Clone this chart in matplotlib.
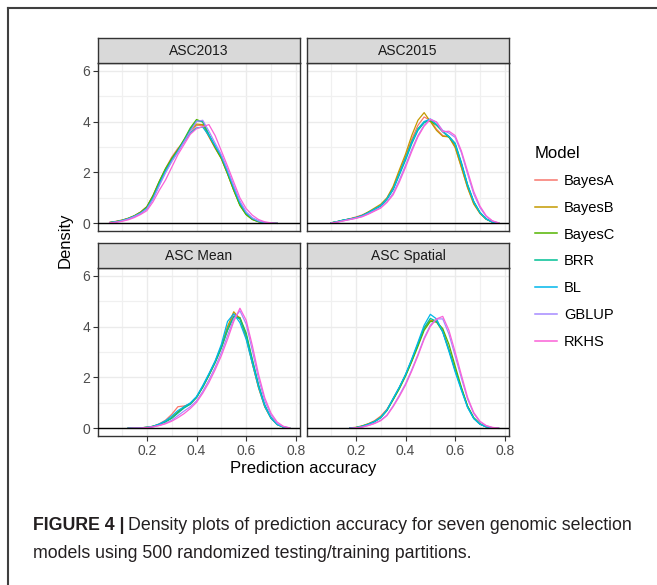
import numpy as np
import matplotlib.pyplot as plt
from matplotlib.lines import Line2D

plt.rcParams['font.family'] = ['Liberation Sans', 'DejaVu Sans']

# models and ggplot default hue colours
models = ["BayesA", "BayesB", "BayesC", "BRR", "BL", "GBLUP", "RKHS"]
colors = ["#F8766D", "#C49A00", "#53B400", "#00C094", "#00B6EB", "#A58AFF", "#FB61D7"]

panels = ["ASC2013", "ASC2015", "ASC Mean", "ASC Spatial"]

# density curves (x grid per panel, one list per model)
x_2013 = np.round(np.arange(0.05, 0.726, 0.025), 3)
d_2013 = {
    "BayesA": [0.04, 0.08, 0.13, 0.20, 0.30, 0.45, 0.66, 1.10, 1.65, 2.15, 2.60, 2.95, 3.20, 3.55, 3.85, 3.85, 3.40, 2.95, 2.55, 1.95, 1.30, 0.72, 0.36, 0.16, 0.07, 0.02, 0.01, 0.00],
    "BayesB": [0.03, 0.07, 0.12, 0.19, 0.30, 0.44, 0.64, 1.08, 1.62, 2.12, 2.52, 2.88, 3.28, 3.65, 3.90, 3.88, 3.42, 2.98, 2.55, 1.95, 1.30, 0.72, 0.35, 0.16, 0.07, 0.03, 0.01, 0.00],
    "BayesC": [0.03, 0.07, 0.12, 0.20, 0.30, 0.44, 0.65, 1.10, 1.65, 2.15, 2.55, 2.90, 3.30, 3.75, 4.08, 3.98, 3.45, 2.98, 2.55, 1.95, 1.30, 0.70, 0.34, 0.15, 0.06, 0.02, 0.01, 0.00],
    "BRR":    [0.03, 0.06, 0.11, 0.18, 0.28, 0.41, 0.60, 1.02, 1.58, 2.08, 2.48, 2.85, 3.25, 3.70, 4.02, 4.00, 3.50, 3.05, 2.62, 2.02, 1.38, 0.78, 0.40, 0.19, 0.08, 0.03, 0.01, 0.00],
    "BL":     [0.03, 0.06, 0.11, 0.18, 0.28, 0.40, 0.58, 0.98, 1.52, 2.02, 2.45, 2.82, 3.22, 3.55, 3.75, 3.78, 3.45, 3.05, 2.65, 2.05, 1.42, 0.82, 0.42, 0.20, 0.09, 0.03, 0.01, 0.00],
    "GBLUP":  [0.02, 0.05, 0.10, 0.17, 0.27, 0.39, 0.57, 0.95, 1.48, 1.98, 2.42, 2.80, 3.20, 3.62, 4.00, 4.05, 3.62, 3.15, 2.70, 2.12, 1.48, 0.88, 0.45, 0.22, 0.10, 0.04, 0.01, 0.00],
    "RKHS":   [0.02, 0.04, 0.08, 0.14, 0.23, 0.35, 0.50, 0.85, 1.30, 1.70, 2.20, 2.70, 3.10, 3.50, 3.72, 3.80, 3.88, 3.45, 2.85, 2.25, 1.62, 1.00, 0.58, 0.32, 0.15, 0.06, 0.02, 0.00],
}

x_2015 = np.round(np.arange(0.10, 0.776, 0.025), 3)
d_2015 = {
    "BayesA": [0.02, 0.06, 0.12, 0.18, 0.25, 0.33, 0.44, 0.55, 0.70, 0.98, 1.40, 2.00, 2.62, 3.30, 3.85, 4.18, 4.05, 3.70, 3.45, 3.40, 3.00, 2.22, 1.42, 0.78, 0.40, 0.17, 0.05, 0.01],
    "BayesB": [0.02, 0.06, 0.12, 0.17, 0.23, 0.31, 0.45, 0.60, 0.75, 1.00, 1.45, 2.10, 2.72, 3.45, 4.05, 4.35, 4.00, 3.65, 3.42, 3.40, 2.98, 2.20, 1.40, 0.76, 0.39, 0.16, 0.05, 0.01],
    "BayesC": [0.02, 0.07, 0.13, 0.17, 0.22, 0.30, 0.43, 0.56, 0.69, 0.95, 1.35, 1.95, 2.55, 3.20, 3.72, 3.98, 4.02, 3.85, 3.60, 3.38, 3.10, 2.35, 1.50, 0.84, 0.42, 0.17, 0.05, 0.01],
    "BRR":    [0.02, 0.07, 0.13, 0.17, 0.22, 0.30, 0.42, 0.55, 0.68, 0.95, 1.32, 1.90, 2.48, 3.12, 3.65, 3.95, 4.08, 3.88, 3.62, 3.42, 3.15, 2.40, 1.53, 0.86, 0.43, 0.18, 0.05, 0.01],
    "BL":     [0.02, 0.07, 0.13, 0.17, 0.22, 0.30, 0.42, 0.56, 0.70, 0.96, 1.35, 1.95, 2.55, 3.18, 3.70, 4.00, 4.10, 3.88, 3.60, 3.40, 3.12, 2.35, 1.50, 0.84, 0.42, 0.17, 0.05, 0.01],
    "GBLUP":  [0.01, 0.05, 0.10, 0.15, 0.20, 0.27, 0.38, 0.50, 0.62, 0.85, 1.18, 1.70, 2.28, 2.90, 3.45, 3.85, 4.10, 3.98, 3.65, 3.55, 3.38, 2.78, 1.95, 1.15, 0.62, 0.27, 0.09, 0.02],
    "RKHS":   [0.01, 0.05, 0.10, 0.15, 0.20, 0.26, 0.36, 0.48, 0.60, 0.82, 1.12, 1.62, 2.20, 2.82, 3.40, 3.82, 4.08, 3.98, 3.60, 3.62, 3.45, 2.85, 2.05, 1.25, 0.68, 0.30, 0.10, 0.02],
}

x_mean = np.round(np.arange(0.125, 0.776, 0.025), 3)
d_mean = {
    "BayesA": [0.01, 0.01, 0.02, 0.04, 0.08, 0.18, 0.32, 0.55, 0.85, 0.88, 0.95, 1.22, 1.62, 2.10, 2.62, 3.20, 3.95, 4.50, 4.35, 3.60, 2.55, 1.60, 0.85, 0.40, 0.15, 0.05, 0.01],
    "BayesB": [0.01, 0.01, 0.02, 0.04, 0.08, 0.16, 0.26, 0.42, 0.65, 0.82, 0.96, 1.22, 1.65, 2.12, 2.62, 3.22, 4.00, 4.58, 4.30, 3.55, 2.55, 1.60, 0.85, 0.40, 0.15, 0.05, 0.01],
    "BayesC": [0.02, 0.02, 0.02, 0.04, 0.08, 0.15, 0.26, 0.40, 0.62, 0.85, 0.98, 1.22, 1.62, 2.08, 2.58, 3.15, 3.85, 4.38, 4.35, 3.75, 2.70, 1.70, 0.90, 0.42, 0.16, 0.05, 0.01],
    "BRR":    [0.01, 0.01, 0.02, 0.04, 0.08, 0.16, 0.26, 0.40, 0.60, 0.80, 0.95, 1.22, 1.62, 2.10, 2.60, 3.18, 3.88, 4.40, 4.30, 3.68, 2.68, 1.70, 0.92, 0.42, 0.16, 0.05, 0.01],
    "BL":     [0.01, 0.01, 0.02, 0.04, 0.08, 0.17, 0.30, 0.48, 0.70, 0.85, 1.00, 1.25, 1.68, 2.15, 2.65, 3.30, 4.20, 4.50, 4.15, 3.50, 2.55, 1.62, 0.86, 0.40, 0.15, 0.05, 0.01],
    "GBLUP":  [0.00, 0.01, 0.01, 0.03, 0.06, 0.12, 0.20, 0.32, 0.50, 0.68, 0.85, 1.08, 1.45, 1.90, 2.40, 2.98, 3.65, 4.30, 4.62, 4.10, 3.05, 1.95, 1.08, 0.52, 0.20, 0.07, 0.02],
    "RKHS":   [0.00, 0.01, 0.01, 0.03, 0.06, 0.11, 0.18, 0.28, 0.42, 0.58, 0.78, 1.02, 1.38, 1.80, 2.30, 2.85, 3.50, 4.20, 4.72, 4.25, 3.25, 2.12, 1.20, 0.60, 0.25, 0.08, 0.02],
}

x_spatial = np.round(np.arange(0.175, 0.776, 0.025), 3)
d_spatial = {
    "BayesA": [0.01, 0.03, 0.09, 0.18, 0.30, 0.48, 0.75, 1.15, 1.60, 2.10, 2.68, 3.30, 3.95, 4.22, 4.25, 3.85, 3.10, 2.30, 1.55, 0.85, 0.40, 0.17, 0.06, 0.02, 0.00],
    "BayesB": [0.02, 0.04, 0.10, 0.18, 0.28, 0.45, 0.72, 1.15, 1.60, 2.08, 2.65, 3.28, 3.92, 4.25, 4.18, 3.80, 3.08, 2.30, 1.58, 0.86, 0.40, 0.17, 0.06, 0.02, 0.00],
    "BayesC": [0.01, 0.03, 0.08, 0.16, 0.26, 0.42, 0.70, 1.12, 1.55, 2.05, 2.62, 3.22, 3.85, 4.20, 4.18, 3.92, 3.30, 2.45, 1.62, 0.88, 0.42, 0.18, 0.07, 0.02, 0.00],
    "BRR":    [0.01, 0.03, 0.08, 0.16, 0.26, 0.42, 0.70, 1.15, 1.60, 2.10, 2.70, 3.32, 3.95, 4.32, 4.20, 3.80, 3.08, 2.28, 1.55, 0.85, 0.40, 0.17, 0.06, 0.02, 0.00],
    "BL":     [0.01, 0.03, 0.08, 0.16, 0.27, 0.43, 0.72, 1.18, 1.62, 2.12, 2.72, 3.38, 4.05, 4.48, 4.30, 3.78, 3.02, 2.22, 1.50, 0.82, 0.38, 0.16, 0.06, 0.02, 0.00],
    "GBLUP":  [0.00, 0.02, 0.05, 0.12, 0.20, 0.32, 0.52, 0.88, 1.30, 1.75, 2.30, 2.90, 3.55, 4.05, 4.30, 4.30, 3.70, 2.85, 1.98, 1.15, 0.58, 0.25, 0.10, 0.03, 0.01],
    "RKHS":   [0.00, 0.02, 0.05, 0.11, 0.19, 0.30, 0.50, 0.85, 1.25, 1.70, 2.25, 2.85, 3.50, 4.00, 4.30, 4.40, 3.85, 3.00, 2.10, 1.22, 0.62, 0.28, 0.11, 0.04, 0.01],
}

panel_data = [(x_2013, d_2013), (x_2015, d_2015), (x_mean, d_mean), (x_spatial, d_spatial)]

x_ticks = [0.2, 0.4, 0.6, 0.8]
y_ticks = [0, 2, 4, 6]

W, H = 657, 585
fig = plt.figure(figsize=(W / 100, H / 100), dpi=100)

# panel boxes in pixels: left, top, width, height
lefts = [98, 307]
tops = [63, 268]
pw, ph = 202, 168
strip_h = 25

for i, name in enumerate(panels):
    r, c = divmod(i, 2)
    L, T = lefts[c], tops[r]
    ax = fig.add_axes([L / W, 1 - (T + ph) / H, pw / W, ph / H])
    xs, dens = panel_data[i]
    for m, col in zip(models, colors):
        ax.plot(xs, dens[m], color=col, lw=0.9, zorder=3)
    ax.axhline(0, color="black", lw=1.0, zorder=4)
    ax.set_xlim(0.003, 0.817)
    ax.set_ylim(-0.3, 6.3)
    ax.set_xticks(x_ticks)
    ax.set_xticks([0.1, 0.3, 0.5, 0.7], minor=True)
    ax.set_yticks(y_ticks)
    ax.set_yticks([1, 3, 5], minor=True)
    ax.grid(True, which="major", color="#EBEBEB", lw=1.0, zorder=0)
    ax.grid(True, which="minor", color="#F0F0F0", lw=0.9, zorder=0)
    ax.set_axisbelow(True)
    for s in ax.spines.values():
        s.set_color("#333333")
        s.set_linewidth(1.0)
    ax.tick_params(which="minor", length=0)
    ax.tick_params(which="major", length=3.5, width=0.8, color="#333333",
                   labelsize=10, labelcolor="#4D4D4D", pad=2)
    if r == 0:
        ax.tick_params(axis="x", which="major", length=0, labelbottom=False)
    if c == 1:
        ax.tick_params(axis="y", which="major", length=0, labelleft=False)
    ax.set_yticklabels([str(v) for v in y_ticks])

    # facet strip
    sax = fig.add_axes([L / W, 1 - T / H, pw / W, strip_h / H])
    sax.set_facecolor("#D9D9D9")
    sax.set_xticks([])
    sax.set_yticks([])
    for s in sax.spines.values():
        s.set_color("#333333")
        s.set_linewidth(1.0)
    sax.text(0.5, 0.47, name, ha="center", va="center", fontsize=10, color="#1A1A1A",
             transform=sax.transAxes)

fig.text(65 / W, 1 - 240 / H, "Density", rotation=90, ha="center", va="center", fontsize=12)
fig.text(303 / W, 1 - 469 / H, "Prediction accuracy", ha="center", va="center", fontsize=12)

handles = [Line2D([], [], color=c, lw=1.1) for c in colors]
fig.legend(handles, models, title="Model", loc="upper left",
           bbox_to_anchor=(535 / W, 1 - 146 / H), frameon=False, fontsize=10.5,
           title_fontsize=12, handlelength=1.5, handletextpad=0.5, labelspacing=0.88,
           alignment="left", borderaxespad=0, borderpad=0)

# caption
fig.canvas.draw()
renderer = fig.canvas.get_renderer()
t1 = fig.text(33 / W, 1 - 530 / H, "FIGURE 4 |", fontsize=12.8, fontweight="bold",
              color="#231F20", va="baseline")
bb = t1.get_window_extent(renderer=renderer)
fig.text((bb.x1 + 4) / W, 1 - 530 / H,
         "Density plots of prediction accuracy for seven genomic selection",
         fontsize=12.8, color="#231F20", va="baseline")
fig.text(33 / W, 1 - 558 / H, "models using 500 randomized testing/training partitions.",
         fontsize=12.8, color="#231F20", va="baseline")

# outer frame
fig.add_artist(Line2D([8 / W, 1], [1 - 8 / H, 1 - 8 / H], color="#3F3F3F", lw=1.5))
fig.add_artist(Line2D([8 / W, 8 / W], [1 - 8 / H, 0], color="#3F3F3F", lw=1.5))

fig.savefig("out.png", dpi=100)
